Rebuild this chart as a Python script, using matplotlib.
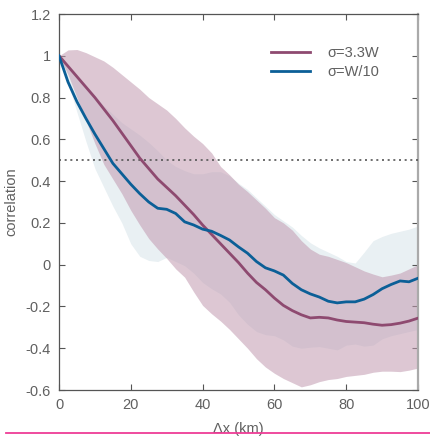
import matplotlib
matplotlib.use("Agg")
import matplotlib.pyplot as plt
from matplotlib.lines import Line2D

x_km = [0, 2.5, 5, 7.5, 10, 12.5, 15, 17.5, 20, 22.5, 25, 27.5, 30, 32.5, 35, 37.5, 40,
        42.5, 45, 47.5, 50, 52.5, 55, 57.5, 60, 62.5, 65, 67.5, 70, 72.5, 75, 77.5, 80,
        82.5, 85, 87.5, 90, 92.5, 95, 97.5, 100]

# sigma = 3.3W : mean and band
mean_33w = [1.0, 0.95, 0.9, 0.85, 0.8, 0.745, 0.69, 0.63, 0.57, 0.51, 0.46, 0.41, 0.37,
            0.33, 0.285, 0.24, 0.19, 0.145, 0.1, 0.055, 0.01, -0.04, -0.085, -0.12, -0.16,
            -0.195, -0.22, -0.24, -0.255, -0.252, -0.255, -0.265, -0.272, -0.275, -0.278,
            -0.285, -0.29, -0.287, -0.28, -0.27, -0.256]
upper_33w = [1.0, 1.028, 1.03, 1.015, 0.995, 0.975, 0.945, 0.91, 0.875, 0.84, 0.8, 0.77,
             0.74, 0.7, 0.655, 0.615, 0.58, 0.535, 0.47, 0.43, 0.385, 0.35, 0.31, 0.27,
             0.225, 0.2, 0.165, 0.115, 0.075, 0.05, 0.04, 0.025, 0.01, -0.01, -0.03,
             -0.045, -0.058, -0.05, -0.04, -0.02, 0.0]
lower_33w = [1.0, 0.91, 0.8, 0.69, 0.58, 0.48, 0.41, 0.34, 0.26, 0.19, 0.125, 0.075, 0.03,
             -0.02, -0.06, -0.13, -0.195, -0.235, -0.27, -0.31, -0.355, -0.4, -0.45, -0.49,
             -0.52, -0.545, -0.565, -0.585, -0.575, -0.56, -0.55, -0.545, -0.535, -0.53,
             -0.525, -0.515, -0.51, -0.51, -0.512, -0.505, -0.495]

# sigma = W/10 : mean and band
mean_w10 = [1.0, 0.875, 0.78, 0.70, 0.625, 0.555, 0.485, 0.435, 0.385, 0.34, 0.30, 0.27,
            0.265, 0.245, 0.205, 0.19, 0.17, 0.16, 0.14, 0.118, 0.085, 0.055, 0.015, -0.015,
            -0.03, -0.05, -0.09, -0.12, -0.14, -0.155, -0.175, -0.183, -0.178, -0.178,
            -0.165, -0.143, -0.115, -0.095, -0.078, -0.082, -0.065]
upper_w10 = [1.0, 0.96, 0.91, 0.86, 0.81, 0.76, 0.72, 0.68, 0.65, 0.62, 0.585, 0.545, 0.5,
             0.47, 0.45, 0.435, 0.435, 0.445, 0.445, 0.425, 0.39, 0.36, 0.32, 0.28, 0.24,
             0.21, 0.18, 0.14, 0.105, 0.08, 0.06, 0.04, 0.015, 0.008, 0.06, 0.115, 0.135,
             0.15, 0.16, 0.17, 0.185]
lower_w10 = [1.0, 0.87, 0.73, 0.59, 0.46, 0.37, 0.28, 0.2, 0.1, 0.04, 0.02, 0.015, 0.035,
             0.015, -0.005, -0.04, -0.085, -0.115, -0.14, -0.18, -0.24, -0.285, -0.32,
             -0.335, -0.34, -0.36, -0.39, -0.4, -0.395, -0.392, -0.4, -0.408, -0.385, -0.38,
             -0.39, -0.385, -0.355, -0.34, -0.33, -0.32, -0.31]

threshold = 0.5
labels = ["σ=3.3W", "σ=W/10"]
x_ticks = [0, 20, 40, 60, 80, 100]
y_ticks = [-0.6, -0.4, -0.2, 0, 0.2, 0.4, 0.6, 0.8, 1, 1.2]
y_ticklabels = ["-0.6", "-0.4", "-0.2", "0", "0.2", "0.4", "0.6", "0.8", "1", "1.2"]

plt.rcParams['font.family'] = ['Liberation Sans', 'DejaVu Sans']

fig = plt.figure(figsize=(4.30, 4.37), dpi=100)
ax = fig.add_axes([59/430, 1-390/437, (418-59)/430, (390-14)/437])

ax.fill_between(x_km, lower_w10, upper_w10, color=(233/255, 240/255, 243/255), lw=0, zorder=1)
ax.fill_between(x_km, lower_33w, upper_33w, color=(193/255, 154/255, 176/255), alpha=0.55, lw=0, zorder=2)

ax.axhline(threshold, color='#555555', ls=(0, (1.2, 2.2)), lw=1.2, zorder=3)

ax.plot(x_km, mean_33w, color='#8e4a70', lw=2.0, label=labels[0], zorder=4)
ax.plot(x_km, mean_w10, color='#0b5f97', lw=2.0, label=labels[1], zorder=5)

ax.set_xlim(0, 100)
ax.set_ylim(-0.6, 1.2)
ax.set_xticks(x_ticks)
ax.set_xticklabels([str(v) for v in x_ticks])
ax.set_yticks(y_ticks)
ax.set_yticklabels(y_ticklabels)
ax.tick_params(direction='in', length=4, width=0.8, colors='#555555', labelsize=10.5,
               top=True, right=True, labelcolor='#606060', pad=6)
for side in ['left', 'bottom', 'top']:
    ax.spines[side].set_color('#555555')
    ax.spines[side].set_linewidth(0.9)
ax.spines['right'].set_color('#aaaaaa')
ax.spines['right'].set_linewidth(1.6)

ax.set_ylabel('correlation', color='#606060', fontsize=10.5, labelpad=5)
ax.set_xlabel('Δx (km)', color='#606060', fontsize=10.5, labelpad=7)

leg = ax.legend(loc='upper right', frameon=False, fontsize=10.5, handlelength=2.7,
                handletextpad=1.2, bbox_to_anchor=(0.93, 0.95), labelspacing=0.35)
for t in leg.get_texts():
    t.set_color('#606060')

fig.add_artist(Line2D([6/430, 1.0], [1-433/437, 1-433/437], color='#ee3d96', lw=1.3,
                      transform=fig.transFigure))

fig.savefig('out.png', dpi=100)
